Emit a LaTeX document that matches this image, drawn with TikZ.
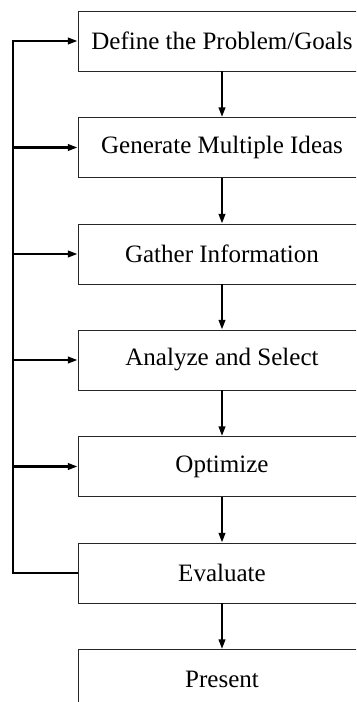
\documentclass[tikz,border=0pt]{standalone}
\usepackage{fontspec}
\setmainfont{Liberation Serif}
\usetikzlibrary{arrows.meta}
\tikzset{
	stepbox/.style={draw=black!85, line width=0.6pt, fill=white, inner sep=0pt,
		minimum width=7.2cm, minimum height=1.5cm,
		font=\fontsize{17.8}{20}\selectfont},
	flow/.style={line width=1.6pt, -{Triangle[length=0.24cm,width=0.16cm]}},
	loopline/.style={line width=1.6pt}
}

\begin{document}
\begin{tikzpicture}[x=0.025cm, y=-0.025cm]
			%%%%% START %%%%%
			
			\useasboundingbox (0, 0) rectangle (356, 702);
			\clip (0, 0) rectangle (356, 702);
			
			\node[stepbox] (define) at (222, 41) {Define the Problem/Goals};
			\node[stepbox] (ideas) at (222, 147.5) {Generate Multiple Ideas};
			\node[stepbox] (gather) at (222, 254) {Gather Information};
			\node[stepbox] (analyze) at (222, 360) {Analyze and Select};
			\node[stepbox] (optimize) at (222, 466.5) {Optimize};
			\node[stepbox] (evaluate) at (222, 573) {Evaluate};
			\node[stepbox] (present) at (222, 679.5) {Present};
			
			\draw[flow] (define.south) -- (ideas.north);
			\draw[flow] (ideas.south) -- (gather.north);
			\draw[flow] (gather.south) -- (analyze.north);
			\draw[flow] (analyze.south) -- (optimize.north);
			\draw[flow] (optimize.south) -- (evaluate.north);
			\draw[flow] (evaluate.south) -- (present.north);
			
			% feedback rail
			\coordinate (rail) at (13, 0);
			\draw[loopline, -{Triangle[length=0.24cm,width=0.16cm]}] (evaluate.west) -- (evaluate.west -| rail) |- (define.west);
			\foreach \n in {ideas, gather, analyze, optimize}
				\draw[flow] (\n.west -| rail) -- (\n.west);
			
			%%%%% END %%%%%
\end{tikzpicture}
\end{document}
